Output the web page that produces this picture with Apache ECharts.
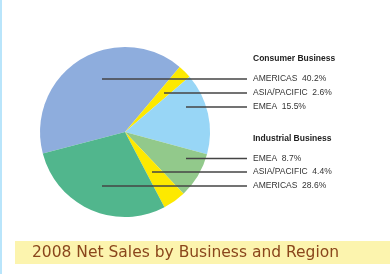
<!DOCTYPE html>
<html>
<head>
<meta charset="utf-8">
<script src="https://cdn.jsdelivr.net/npm/echarts@6/dist/echarts.min.js"></script>
<style>html,body{margin:0;padding:0;background:#fff}#c{width:390px;height:274px}</style>
</head>
<body>
<div id="c"></div>
<script>
// Data
const groups = ['Consumer Business', 'Industrial Business'];
const regions = ['AMERICAS', 'ASIA/PACIFIC', 'EMEA', 'EMEA', 'ASIA/PACIFIC', 'AMERICAS'];
const groupOf = [0, 0, 0, 1, 1, 1];
const shares = [40.2, 2.6, 15.5, 8.7, 4.4, 28.6];
const title = '2008 Net Sales by Business and Region';

// Styles / layout
const colors = ['#8eaddd', '#fde900', '#98d6f6', '#92c98b', '#fde900', '#51b68d'];
const rowY = [79, 93, 107, 158.5, 172, 186];
const lineStartX = [102, 164, 186, 186, 152, 102];
const lineEndX = 247;
const labelX = 253;

const pieBase = {
  type: 'pie',
  center: [125, 132],
  radius: 85,
  startAngle: 194.7,
  clockwise: true,
  silent: true
};

const chart = echarts.init(document.getElementById('c'), null, {renderer: 'canvas'});
chart.setOption({
  animation: false,
  graphic: [
    {type: 'rect', shape: {x: 0, y: 0, width: 2, height: 274}, style: {fill: '#b9e5fb'}},
    {type: 'rect', shape: {x: 15, y: 241, width: 375, height: 23}, style: {fill: '#fcf4ae'}},
    {type: 'text', x: 32, y: 253, style: {text: title, font: '15.5px "DejaVu Sans"', fill: '#8a461c', verticalAlign: 'middle'}},
    {type: 'text', x: labelX, y: 59, style: {text: groups[0], font: 'bold 8.5px "Liberation Sans"', fill: '#222', verticalAlign: 'middle'}},
    {type: 'text', x: labelX, y: 139, style: {text: groups[1], font: 'bold 8.5px "Liberation Sans"', fill: '#222', verticalAlign: 'middle'}}
  ],
  series: [
    Object.assign({}, pieBase, {
      z: 2,
      itemStyle: {borderWidth: 0},
      label: {show: false},
      labelLine: {show: false},
      data: shares.map((v, i) => ({name: regions[i], value: v, itemStyle: {color: colors[i]}}))
    }),
    Object.assign({}, pieBase, {
      z: 5,
      itemStyle: {color: 'rgba(0,0,0,0)', borderWidth: 0},
      label: {
        show: true,
        overflow: 'none',
        formatter: p => p.name + '  ' + p.value.toFixed(1) + '%',
        fontFamily: 'Liberation Sans',
        fontSize: 8.5,
        color: '#333'
      },
      labelLine: {show: true, lineStyle: {color: '#444', width: 1.4}},
      labelLayout: function (p) {
        const i = p.dataIndex;
        const y = rowY[i];
        return {
          x: labelX, y: y, align: 'left', verticalAlign: 'middle',
          labelLinePoints: [[lineStartX[i], y], [lineEndX, y], [lineEndX, y]]
        };
      },
      data: shares.map((v, i) => ({name: regions[i], value: v, group: groups[groupOf[i]]}))
    })
  ]
});
</script>
</body>
</html>
